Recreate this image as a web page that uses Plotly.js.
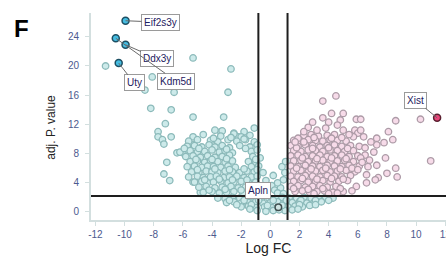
<!DOCTYPE html>
<html><head><meta charset="utf-8">
<script src="https://cdn.plot.ly/plotly-3.0.1.min.js"></script>
<style>html,body{margin:0;padding:0;background:#fff}#chart{width:446px;height:257px}</style>
</head><body><div id="chart"></div>
<script>
// ---- data (x = Log FC, y = adj. P. value) ----
const tealScatter = [[-11.3,20.0],[-8.1,18.5],[-8.6,16.7],[-6.6,16.4],[-8.2,14.2],[-6.8,14.0],[-7.2,12.1],[-7.7,11.0],[-7.7,10.3],[-7.4,9.9],[-7.3,9.3],[-6.8,10.3],[-5.3,21.1],[-2.7,19.6],[-2.9,16.4],[-5.3,13.0],[-3.2,13.0],[-1.1,11.5],[-5.3,10.3],[-5.3,9.2],[-6.4,8.1],[-6.0,8.1],[-7.1,6.8],[-7.3,5.2],[-6.9,4.3],[-5.3,4.1],[-4.8,2.7],[-3.4,11.0],[-3.3,11.1],[-2.5,10.8],[-1.8,11.0],[-2.2,10.3],[-3.8,11.2]];
const tealCore = [[-4.6,10.6],[-3.4,10.4],[-2.5,10.7],[-2.0,10.3],[-1.4,10.5],
[-5.6,9.7],[-5.0,9.9],[-4.1,9.8],[-3.6,9.6],[-2.9,9.9],[-2.3,9.7],[-1.7,9.9],[-1.1,9.6],
[-5.7,9.0],[-5.2,9.1],[-4.7,8.9],[-4.2,9.2],[-3.8,8.9],[-3.3,9.1],[-2.8,8.8],[-2.1,9.1],[-1.4,8.9],[-0.9,9.2],
[-6.2,8.2],[-5.5,8.4],[-5.0,8.2],[-4.5,8.3],[-4.0,8.5],[-3.5,8.2],[-3.1,8.4],[-2.6,8.1],[-1.3,8.3],[-0.9,8.5],
[-5.8,7.6],[-5.3,7.7],[-4.8,7.5],[-4.3,7.7],[-3.8,7.5],[-3.3,7.6],[-2.8,7.8],[-1.2,7.6],[-0.7,7.4],
[-5.5,6.9],[-5.0,7.0],[-4.5,6.8],[-4.1,7.0],[-3.6,6.9],[-3.1,6.8],[-2.6,7.0],[-1.5,6.9],[-1.0,6.8],
[-5.7,6.2],[-5.2,6.3],[-4.7,6.1],[-4.3,6.3],[-3.9,6.2],[-3.4,6.1],[-2.9,6.3],[-2.4,6.1],[-1.3,6.2],[-0.8,6.3],
[-5.4,5.5],[-4.9,5.4],[-4.4,5.6],[-4.0,5.5],[-3.6,5.4],[-3.1,5.6],[-2.6,5.5],[-2.1,5.4],[-1.6,5.6],[-1.1,5.5],
[-5.6,4.8],[-5.0,4.9],[-4.6,4.7],[-4.1,4.8],[-3.7,4.9],[-3.2,4.7],[-2.8,4.8],[-2.3,4.9],[-1.8,4.7],[-1.3,4.8],[-0.9,4.9],
[-5.2,4.1],[-4.7,4.2],[-4.3,4.0],[-3.9,4.1],[-3.4,4.2],[-2.9,4.0],[-2.5,4.1],[-2.0,4.2],[-1.5,4.0],[-1.0,4.1],
[-4.9,3.4],[-4.4,3.5],[-3.8,3.3],[-3.3,3.4],[-2.7,3.5],[-2.2,3.3],[-1.7,3.4],[-1.2,3.5],[-0.8,3.3],
[-4.6,2.7],[-4.0,2.8],[-3.5,2.6],[-3.0,2.7],[-2.5,2.8],[-1.9,2.6],[-1.4,2.7],[-0.9,2.8],
[-3.9,10.1],[-2.7,10.2],[-1.8,10.0],[-5.9,8.7],[-4.9,8.7],[-3.0,8.6],[-1.7,8.7],[-5.1,7.2],[-4.0,7.2],[-3.0,7.3],[-1.0,7.2],
[-5.0,5.8],[-3.8,5.9],[-2.8,5.8],[-1.8,5.9],[-0.9,5.8],[-4.5,4.4],[-3.5,4.5],[-2.6,4.4],[-1.6,4.4],[-4.2,3.0],[-3.1,3.1],[-2.0,3.0],[-1.1,3.0]];
const tealMiddle = [[-0.5,5.4],[-0.3,4.3],[0.1,3.6],[-0.5,3.5],[0.3,3.0],[0.7,3.3],[0.9,4.4],[1.0,5.4],[0.8,6.2],[1.05,6.9],[0.5,2.6],[-0.2,2.8],[0.9,2.5],[-0.6,2.5],[0.5,4.0],[0.2,5.0]];
const tealLow = [[-3.6,1.9],[-3.1,1.8],[-2.6,2.0],[-2.1,1.9],[-1.6,1.8],[-1.1,2.0],[-0.6,1.9],[-0.1,1.9],[0.4,1.8],[0.8,2.0],[1.3,1.9],[1.8,1.8],[2.3,2.0],[2.8,1.9],[3.3,1.8],[3.8,2.0],[4.3,1.9],
[-3.0,1.3],[-2.5,1.4],[-2.0,1.2],[-1.5,1.3],[-1.0,1.4],[-0.5,1.2],[0.0,1.3],[0.5,1.4],[1.0,1.2],[1.5,1.3],[2.0,1.4],[2.5,1.2],[3.0,1.3],[3.5,1.4],
[-2.0,0.7],[-1.5,0.8],[-1.0,0.6],[-0.4,0.7],[0.1,0.6],[1.2,0.7],[1.7,0.8],[2.2,0.7],[2.7,0.9],
[-0.9,0.2],[-0.3,0.1],[0.2,0.2],[1.0,0.2],[1.5,0.3],
[-2.8,1.6],[-1.8,1.6],[-0.8,1.6],[0.2,1.6],[1.1,1.6],[2.1,1.6],[3.1,1.6],[4.0,1.6],[-2.3,1.0],[-1.3,1.0],[-0.2,0.9],[0.8,0.9],[2.0,1.0],[3.1,1.0],[-1.4,0.4],[0.6,0.3],[1.9,0.4]];
const pinkCore = [[2.3,10.5],[2.8,10.6],[3.3,10.4],[3.9,10.5],[4.4,10.6],
[1.6,9.8],[2.1,9.7],[2.6,9.9],[3.1,9.8],[3.6,9.7],[4.1,9.9],[4.6,9.8],[5.2,9.7],
[1.4,9.1],[1.9,9.0],[2.4,9.2],[2.9,9.1],[3.4,8.9],[3.9,9.1],[4.4,9.2],[4.9,9.0],[5.5,9.1],[6.1,9.0],
[1.6,8.4],[2.1,8.3],[2.6,8.5],[3.1,8.4],[3.6,8.3],[4.1,8.5],[4.6,8.4],[5.1,8.3],[5.7,8.4],
[1.4,7.7],[1.9,7.8],[2.4,7.6],[2.9,7.7],[3.4,7.8],[3.9,7.6],[4.4,7.7],[4.9,7.8],[5.4,7.6],[6.0,7.7],[6.5,7.8],
[1.6,7.0],[2.1,7.1],[2.6,6.9],[3.1,7.0],[3.6,7.1],[4.1,6.9],[4.6,7.0],[5.1,7.1],[5.7,6.9],
[1.4,6.3],[1.9,6.2],[2.4,6.4],[2.9,6.3],[3.4,6.2],[3.9,6.4],[4.4,6.3],[4.9,6.2],[5.4,6.4],[6.1,6.3],
[1.6,5.6],[2.1,5.7],[2.6,5.5],[3.1,5.6],[3.6,5.7],[4.1,5.5],[4.6,5.6],[5.2,5.7],[5.8,5.5],
[1.4,4.9],[1.9,4.8],[2.4,5.0],[2.9,4.9],[3.4,4.8],[3.9,5.0],[4.4,4.9],[4.9,4.8],[5.5,5.0],
[1.6,4.2],[2.1,4.3],[2.6,4.1],[3.1,4.2],[3.6,4.3],[4.1,4.1],[4.7,4.2],[5.3,4.3],
[1.4,3.5],[1.9,3.6],[2.4,3.4],[2.9,3.5],[3.4,3.6],[3.9,3.4],[4.5,3.5],
[1.7,2.8],[2.2,2.9],[2.7,2.7],[3.2,2.8],[3.7,2.9],[4.3,2.7],[5.0,2.8],
[1.9,10.1],[3.0,10.2],[4.2,10.1],[4.9,10.2],[1.8,8.8],[2.9,8.7],[4.0,8.8],[5.3,8.7],[2.2,7.4],[3.2,7.3],[4.2,7.4],[5.2,7.3],[6.2,7.4],
[1.8,6.0],[2.8,5.9],[3.8,6.0],[4.8,5.9],[5.6,6.0],[2.2,4.6],[3.2,4.5],[4.2,4.6],[5.0,4.5],[1.6,3.2],[2.6,3.1],[3.6,3.2],[4.8,3.2],[3.0,2.5],[4.0,2.5],[4.6,2.6]];
const pinkScatter = [[3.6,15.2],[4.5,15.9],[4.2,13.5],[5.0,13.5],[5.9,12.7],[3.6,12.9],[2.9,12.3],[4.0,12.3],[4.8,12.6],[4.6,11.9],[2.6,11.6],[3.2,11.2],[3.8,11.5],[5.0,11.2],[5.8,11.2],[6.0,10.8],[5.7,10.3],[6.5,8.8],[2.3,11.0],[6.2,12.7],[8.1,11.0],[8.4,9.9],[7.3,10.1],[7.3,9.2],[7.8,9.5],[7.1,8.2],[7.9,7.4],[6.8,7.1],[7.3,6.4],[8.6,6.0],[8.0,5.3],[8.7,4.8],[7.4,4.7],[6.6,5.1],[6.6,4.0],[7.2,4.4],[6.2,11.2],[6.4,10.3],[8.6,12.5],[10.3,12.7],[11.0,7.0],[5.9,3.5],[5.6,2.9],[6.9,9.6],[6.7,6.2],[6.0,5.8],[6.3,6.8],[5.4,10.6],[1.7,9.6],[2.3,9.6]];
const aplnPoint = [0.55,0.65];
const labelGenes = ["Eif2s3y","Ddx3y","Kdm5d","Uty","Xist","Apln"];
const labelX = [-9.93,-9.93,-10.6,-10.4,11.44,0.55];
const labelY = [26.2,22.9,23.8,20.4,12.9,0.65];
const labelBoxX = [-7.53,-7.74,-6.44,-9.35,9.97,-0.82];
const labelBoxY = [26.0,21.0,17.9,17.7,15.3,2.95];
const xTicks = [-12,-10,-8,-6,-4,-2,0,2,4,6,8,10,12];
const yTicks = [0,4,8,12,16,20,24];
const thresholdsX = [-0.82,1.18];
const thresholdY = 2.2;

const FONT = 'Arial, Liberation Sans, sans-serif';
const col = (arr,i)=>arr.map(p=>p[i]);
const teal = tealScatter.concat(tealCore, tealMiddle, tealLow);
const pink = pinkCore.concat(pinkScatter);

const traces = [
  {type:'scatter',mode:'markers',x:col(teal,0),y:col(teal,1),hoverinfo:'skip',
   marker:{size:6.5,color:'#cdeaea',line:{color:'#8cbaba',width:1.3}}},
  {type:'scatter',mode:'markers',x:col(pink,0),y:col(pink,1),hoverinfo:'skip',
   marker:{size:6.5,color:'#f7dbe9',line:{color:'#ad9ba7',width:1.3}}},
  {type:'scatter',mode:'markers',x:[aplnPoint[0]],y:[aplnPoint[1]],hoverinfo:'skip',
   marker:{size:6.5,color:'#cfe4e2',line:{color:'#405050',width:1.5}}},
  {type:'scatter',mode:'markers',x:labelX.slice(0,4),y:labelY.slice(0,4),hoverinfo:'skip',
   marker:{size:7,color:'#45bde2',line:{color:'#1d4f63',width:1.5}}},
  {type:'scatter',mode:'markers',x:[labelX[4]],y:[labelY[4]],hoverinfo:'skip',
   marker:{size:7,color:'#e8457a',line:{color:'#5a2030',width:1.5}}}
];

const shapes = thresholdsX.map(v=>({type:'line',xref:'x',yref:'paper',x0:v,x1:v,y0:0,y1:1,line:{color:'#1e1e1e',width:2}}))
 .concat([{type:'line',xref:'paper',yref:'y',x0:0,x1:1,y0:thresholdY,y1:thresholdY,line:{color:'#1e1e1e',width:2}}]);

const annotations = labelGenes.map((g,i)=>({
  x:labelX[i], y:labelY[i], xref:'x', yref:'y',
  ax:labelBoxX[i], ay:labelBoxY[i], axref:'x', ayref:'y',
  text:g, showarrow: g!=='Apln', arrowhead:0, arrowwidth:1, arrowcolor:'#6a6a6a', standoff:0,
  font:{family:FONT,size:10,color:'#1e2060'},
  bgcolor:'#ffffff', bordercolor:'#9a9a9a', borderwidth:1, borderpad:2
}));
annotations[5].x = labelBoxX[5]; annotations[5].y = labelBoxY[5];
annotations.push({xref:'paper',yref:'paper',x:-0.2225,y:1.0,xanchor:'left',yanchor:'top',yshift:0,
  text:'<b>F</b>',showarrow:false,font:{family:FONT,size:24,color:'#000'}});
annotations.push({xref:'paper',yref:'paper',x:-0.113,y:0.45,xanchor:'center',yanchor:'middle',textangle:-90,
  text:'adj. P. value',showarrow:false,font:{family:FONT,size:12,color:'#222'}});

const axisCommon = {showgrid:false,zeroline:false,showline:true,linecolor:'#d3dfdf',linewidth:2,
  ticks:'outside',ticklen:4,tickcolor:'#d3dfdf',tickwidth:1,ticklabeloverflow:'allow',
  tickfont:{family:FONT,size:10,color:'#4d5a8e'}};

const layout = {
  width:446,height:257,margin:{l:91,r:0,t:13,b:37},
  paper_bgcolor:'#fff',plot_bgcolor:'#fff',showlegend:false,
  xaxis:Object.assign({},axisCommon,{range:[-12.3,12.05],tickvals:xTicks,ticktext:xTicks.map(String),
    title:{text:'Log FC',standoff:4,font:{family:FONT,size:14,color:'#222'}}}),
  yaxis:Object.assign({},axisCommon,{range:[-1.1,27.26],tickvals:yTicks,ticktext:yTicks.map(String),ticklabelstandoff:4}),
  shapes:shapes, annotations:annotations
};
Plotly.newPlot('chart',traces,layout,{displayModeBar:false,staticPlot:true});
</script></body></html>
